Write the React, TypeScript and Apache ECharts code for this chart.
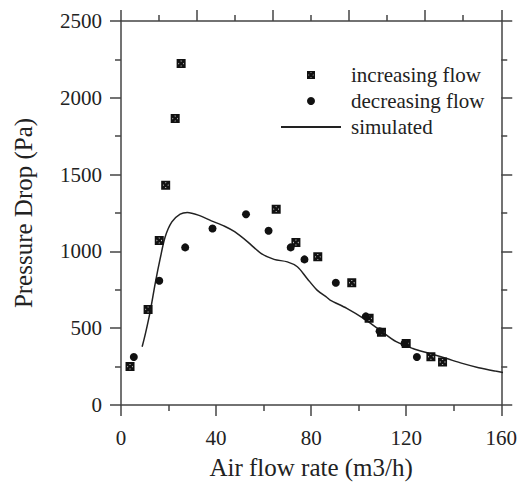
import React, { useEffect, useRef } from "react";
import * as echarts from "echarts";

const increasingX = [3.8, 11.4, 16.1, 18.8, 22.8, 25.3, 65.3, 73.6, 82.8, 97.1, 104.4, 109.6, 120, 130.4, 135.3];
const increasingY = [250, 622, 1071, 1431, 1865, 2223, 1275, 1058, 965, 796, 564, 473, 401, 314, 280];
const decreasingX = [5.4, 16.1, 27, 38.5, 52.6, 62.1, 71.4, 77.2, 90.4, 103, 108.8, 119.3, 124.5];
const decreasingY = [312, 809, 1026, 1149, 1242, 1134, 1026, 948, 796, 577, 480, 401, 312];
const simX = [8.9, 10.3, 12.4, 14.4, 16.5, 18.6, 21.4, 24.9, 27.9, 32.5, 38, 43.6, 47.8, 53.3, 58.9, 64.4, 70, 74.2, 78.3, 82.5, 86.7, 88, 95, 102, 108.9, 115.8, 122.8, 129.7, 136.7, 143.6, 150.5, 157.5, 165];
const simY = [379, 466, 618, 792, 954, 1095, 1192, 1242, 1253, 1236, 1199, 1164, 1128, 1062, 987, 948, 932, 900, 824, 748, 700, 683, 629, 564, 488, 412, 368, 336, 304, 271, 243, 221, 200];
const xTicks = { min: 0, max: 160, interval: 40 };
const yTicks = { min: 0, max: 2500, interval: 500 };

const FONT = "'Liberation Serif', 'DejaVu Serif', serif";
const AX = "#444";
const TXT = "#222";

const starSquare =
  "path://M0,0H10V10H0Z M2,2V8H8V2Z M2,2L4,2L8,6L8,8L6,8L2,4Z M8,2L8,4L4,8L2,8L2,6L6,2Z";

function zip(a: number[], b: number[]) {
  return a.map((v, i) => [v, b[i]]);
}

export default function App() {
  const ref = useRef<HTMLDivElement>(null);
  useEffect(() => {
    if (!ref.current) return;
    const chart = echarts.init(ref.current, null, { renderer: "svg" });
    const axisCommon = {
      axisLine: { show: true, onZero: false, lineStyle: { color: AX, width: 1.5 } },
      axisTick: { show: true, inside: false, length: 11, lineStyle: { color: AX, width: 1.5 } },
      minorTick: { show: true, splitNumber: 2, length: 6, lineStyle: { color: AX, width: 1.5 } },
      splitLine: { show: false },
      minorSplitLine: { show: false },
    };
    const labelStyle = { fontFamily: FONT, fontSize: 21, color: TXT };
    chart.setOption({
      animation: false,
      backgroundColor: "#fff",
      textStyle: { fontFamily: FONT },
      grid: { left: 121, right: 15, top: 21, bottom: 80, containLabel: false },
      legend: {
        orient: "vertical",
        left: 280,
        top: 62,
        padding: 0,
        itemGap: 0,
        itemWidth: 60,
        itemHeight: 8,
        textStyle: { ...labelStyle, lineHeight: 26, padding: [0, 0, 0, 5] },
        data: [
          { name: "increasing flow" },
          { name: "decreasing flow" },
          { name: "simulated", itemStyle: { color: "rgba(0,0,0,0)", borderWidth: 0, opacity: 0 } },
        ],
      },
      xAxis: [
        {
          type: "value",
          position: "bottom",
          min: xTicks.min,
          max: xTicks.max,
          interval: xTicks.interval,
          ...axisCommon,
          axisLabel: { ...labelStyle, margin: 22, formatter: (v: number) => String(v) },
          name: "Air flow rate (m3/h)",
          nameLocation: "middle",
          nameGap: 50,
          nameTextStyle: { fontFamily: FONT, fontSize: 25, color: TXT },
        },
        {
          type: "value",
          position: "top",
          min: 0,
          max: 160,
          interval: 32,
          ...axisCommon,
          axisLabel: { show: false },
        },
      ],
      yAxis: [
        {
          type: "value",
          position: "left",
          min: yTicks.min,
          max: yTicks.max,
          interval: yTicks.interval,
          ...axisCommon,
          axisLabel: { ...labelStyle, margin: 19, formatter: (v: number) => String(v) },
          name: "Pressure Drop (Pa)",
          nameLocation: "middle",
          nameGap: 85,
          nameTextStyle: { fontFamily: FONT, fontSize: 25, color: TXT },
        },
        {
          type: "value",
          position: "right",
          min: 0,
          max: 2500,
          interval: 500,
          ...axisCommon,
          axisLabel: { show: false },
        },
      ],
      series: [
        {
          name: "increasing flow",
          type: "scatter",
          symbol: starSquare,
          symbolSize: 9,
          itemStyle: { color: "#111", opacity: 1 },
          data: zip(increasingX, increasingY),
          z: 3,
        },
        {
          name: "decreasing flow",
          type: "scatter",
          symbol: "circle",
          symbolSize: 8,
          itemStyle: { color: "#111", opacity: 1 },
          data: zip(decreasingX, decreasingY),
          z: 3,
        },
        {
          name: "simulated",
          type: "line",
          symbol: "none",
          smooth: 0.3,
          clip: false,
          lineStyle: { color: "#222", width: 1.5 },
          itemStyle: { color: "#222" },
          data: zip(simX, simY),
          z: 2,
        },
      ],
    });
    return () => chart.dispose();
  }, []);
  return (
    <div
      ref={ref}
      style={{ position: "fixed", left: 0, top: 0, width: 520, height: 485, background: "#fff" }}
    />
  );
}
